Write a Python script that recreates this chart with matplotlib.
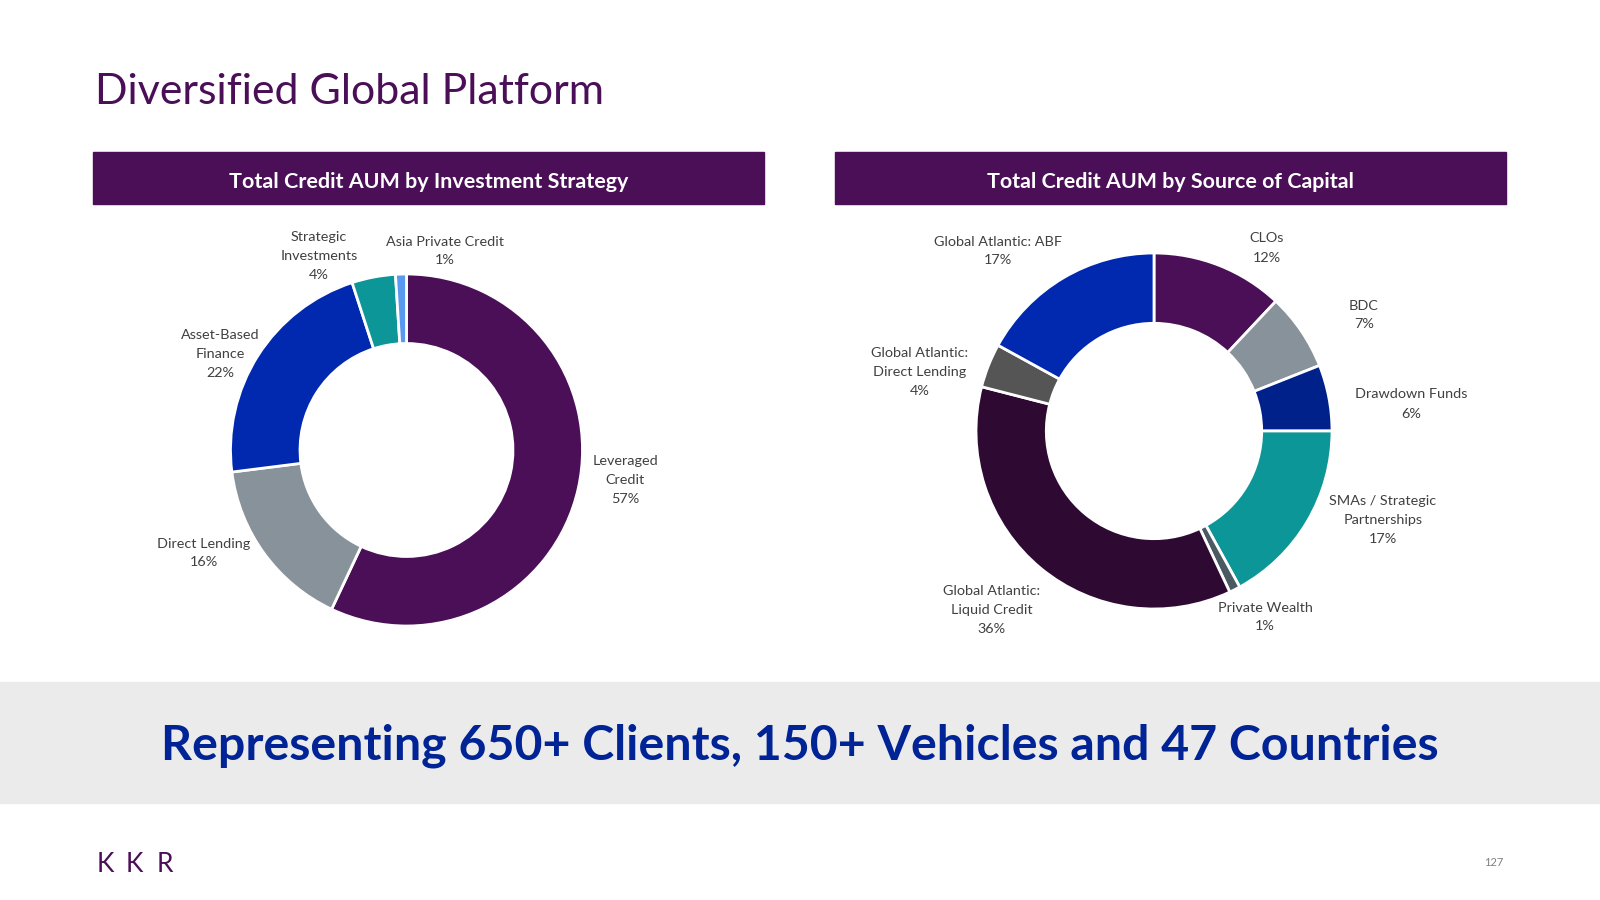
import matplotlib
matplotlib.use("Agg")
import matplotlib.pyplot as plt
from matplotlib.patches import Rectangle

# ---------------- data ----------------
strategy_labels = ["Leveraged\nCredit", "Direct Lending", "Asset-Based\nFinance",
                   "Strategic\nInvestments", "Asia Private Credit"]
strategy_values = [57, 16, 22, 4, 1]

source_labels = ["CLOs", "BDC", "Drawdown Funds", "SMAs / Strategic\nPartnerships",
                 "Private Wealth", "Global Atlantic:\nLiquid Credit",
                 "Global Atlantic:\nDirect Lending", "Global Atlantic: ABF"]
source_values = [12, 7, 6, 17, 1, 36, 4, 17]

title_text = "Diversified Global Platform"
left_header = "Total Credit AUM by Investment Strategy"
right_header = "Total Credit AUM by Source of Capital"
banner_text = "Representing 650+ Clients, 150+ Vehicles and 47 Countries"
page_number = "127"

# ---------------- styles / layout ----------------
PURPLE = "#4A0F57"
strategy_colors = [PURPLE, "#87929A", "#0029B0", "#0D9697", "#5A99F0"]
source_colors = [PURPLE, "#87929A", "#00208A", "#0D9697", "#4B5A62",
                 "#2E0A33", "#555555", "#0029B0"]
LABEL_COLOR = "#404040"
BANNER_BG = "#EBEBEB"
BANNER_FG = "#002395"

H = 900  # figure height in px, used to flip image y coordinates


def up(y):
    return H - y


# label centres (image pixel coordinates)
strategy_label_pos = [(625, 480), (204, 553), (220, 354), (319, 256), (445, 251)]
source_label_pos = [(1267, 248), (1364, 315), (1411, 404), (1383, 520),
                    (1265, 617), (992, 610), (920, 372), (998, 251)]

FONT = ["Lato", "DejaVu Sans"]

fig = plt.figure(figsize=(16, 9), dpi=100)
fig.patch.set_facecolor("white")
ax = fig.add_axes([0, 0, 1, 1])


def donut(values, colors, center, radius):
    ax.pie(values, colors=colors, startangle=90, counterclock=False,
           radius=radius, center=center,
           wedgeprops=dict(width=radius * 0.395, edgecolor="white", linewidth=2))


donut(strategy_values, strategy_colors, (406.5, up(450)), 176)
donut(source_values, source_colors, (1154, up(431)), 178)

ax.set_xlim(0, 1600)
ax.set_ylim(0, 900)
ax.set_aspect("equal")
ax.axis("off")

# header bars
ax.add_patch(Rectangle((93, up(204)), 764 - 93, 52, color=PURPLE, zorder=0))
ax.add_patch(Rectangle((835, up(204)), 1506 - 835, 52, color=PURPLE, zorder=0))
# grey banner
ax.add_patch(Rectangle((0, up(803)), 1600, 803 - 682, color=BANNER_BG, zorder=0))

fig.canvas.draw()
renderer = fig.canvas.get_renderer()


def fit(t, width):
    bb = t.get_window_extent(renderer=renderer)
    t.set_fontsize(t.get_fontsize() * width / bb.width)


t_title = ax.text(95, up(104), title_text, fontsize=30, color=PURPLE,
                  family=FONT, fontweight="normal", ha="left", va="baseline")
fit(t_title, 509)

t_h1 = ax.text(428.5, up(182), left_header, fontsize=14, color="white",
               family=FONT, fontweight="bold", ha="center", va="center")
fit(t_h1, 401)
t_h2 = ax.text(1170.5, up(182), right_header, fontsize=14, color="white",
               family=FONT, fontweight="bold", ha="center", va="center")
fit(t_h2, 369)

t_b = ax.text(800, up(760), banner_text, fontsize=36, color=BANNER_FG,
              family=FONT, fontweight="bold", ha="center", va="baseline")
fit(t_b, 1274)

# size reference for data labels
probe = ax.text(0, 0, "Asia Private Credit", fontsize=11, family=FONT)
fit(probe, 118)
label_size = probe.get_fontsize()
probe.remove()

for name, val, (x, y) in zip(strategy_labels, strategy_values, strategy_label_pos):
    ax.text(x, up(y), f"{name}\n{val}%", fontsize=label_size, color=LABEL_COLOR,
            family=FONT, ha="center", va="center", multialignment="center",
            linespacing=1.7)
for name, val, (x, y) in zip(source_labels, source_values, source_label_pos):
    ax.text(x, up(y), f"{name}\n{val}%", fontsize=label_size, color=LABEL_COLOR,
            family=FONT, ha="center", va="center", multialignment="center",
            linespacing=1.7)

# KKR logo and page number
for ch, x in zip("KKR", [105.5, 134.5, 164.5]):
    ax.text(x, up(872), ch, fontsize=19, color=PURPLE, family=FONT,
            fontweight="normal", ha="center", va="baseline")
ax.text(1494, up(866), page_number, fontsize=8, color="#7F7F7F", family=FONT,
        ha="center", va="baseline")

fig.savefig("out.png", dpi=100, facecolor="white")
